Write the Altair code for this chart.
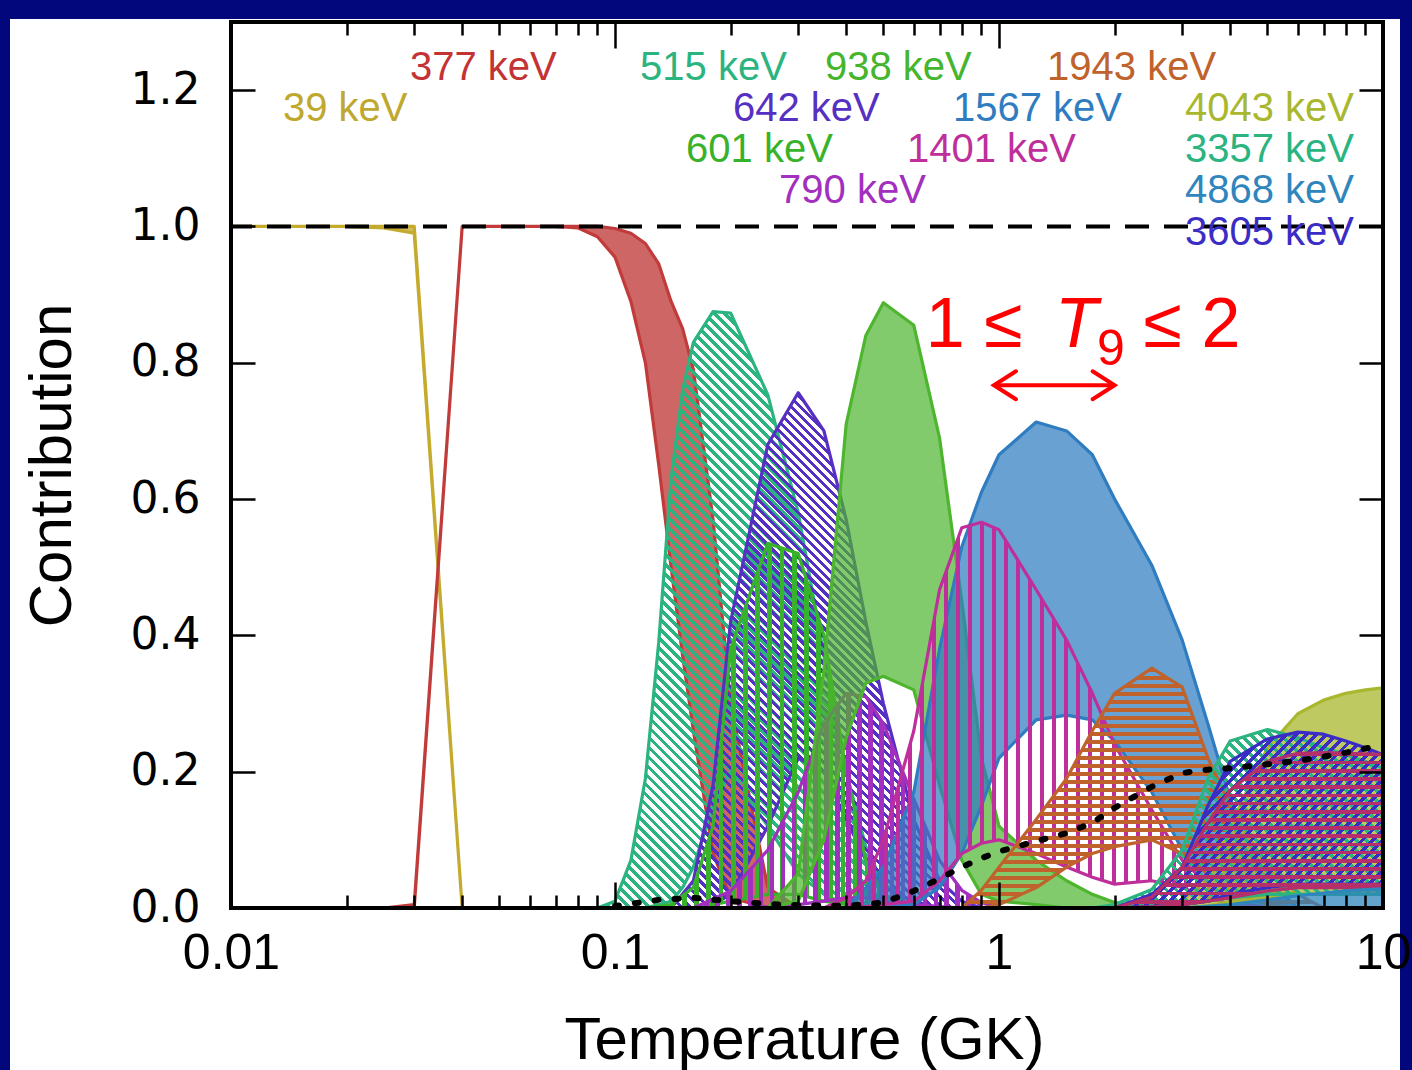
import math
import altair as alt
import pandas as pd

# ---------------- data ----------------
# each resonance: temperatures (GK), upper and lower contribution bounds
T_39 = [0.01, 0.015, 0.02, 0.025, 0.03, 0.04]
U_39 = [1.0, 1.0, 1.0, 1.0, 1.0, 0.0]
L_39 = [1.0, 1.0, 1.0, 0.998, 0.99, 0.0]

T_377 = [0.025, 0.03, 0.04, 0.05, 0.06, 0.07, 0.08, 0.09, 0.1, 0.11, 0.12, 0.13, 0.14, 0.15, 0.16, 0.18, 0.2, 0.25, 0.3]
U_377 = [0.0, 0.005, 1.0, 1.0, 1.0, 1.0, 1.0, 1.0, 0.997, 0.99, 0.975, 0.945, 0.89, 0.85, 0.79, 0.57, 0.3, 0.03, 0.0]
L_377 = [0.0, 0.0, 1.0, 1.0, 1.0, 1.0, 0.998, 0.985, 0.955, 0.89, 0.8, 0.65, 0.5, 0.37, 0.26, 0.08, 0.015, 0.0, 0.0]

T_515 = [0.09, 0.1, 0.11, 0.12, 0.13, 0.14, 0.15, 0.16, 0.18, 0.2, 0.25, 0.3, 0.35, 0.4, 0.45, 0.5, 0.6, 0.7]
U_515 = [0.0, 0.01, 0.07, 0.19, 0.39, 0.63, 0.76, 0.83, 0.875, 0.873, 0.753, 0.58, 0.37, 0.2, 0.09, 0.035, 0.008, 0.0]
L_515 = [0.0, 0.0, 0.0, 0.0, 0.005, 0.01, 0.03, 0.06, 0.15, 0.2, 0.12, 0.05, 0.02, 0.005, 0.0, 0.0, 0.0, 0.0]

T_642 = [0.14, 0.16, 0.18, 0.2, 0.25, 0.3, 0.35, 0.4, 0.45, 0.5, 0.6, 0.7, 0.8, 0.9]
U_642 = [0.0, 0.04, 0.18, 0.42, 0.68, 0.756, 0.7, 0.57, 0.42, 0.3, 0.13, 0.04, 0.01, 0.0]
L_642 = [0.0, 0.0, 0.005, 0.02, 0.12, 0.22, 0.2, 0.13, 0.07, 0.03, 0.01, 0.0, 0.0, 0.0]

T_601 = [0.12, 0.14, 0.16, 0.18, 0.2, 0.25, 0.3, 0.35, 0.4, 0.45, 0.5, 0.6]
U_601 = [0.0, 0.005, 0.03, 0.12, 0.38, 0.535, 0.52, 0.4, 0.2, 0.07, 0.02, 0.0]
L_601 = [0.0, 0.0, 0.0, 0.005, 0.01, 0.02, 0.02, 0.01, 0.005, 0.0, 0.0, 0.0]

T_790 = [0.16, 0.2, 0.25, 0.3, 0.35, 0.4, 0.45, 0.5, 0.6, 0.7, 0.8, 0.9, 1.0]
U_790 = [0.0, 0.025, 0.085, 0.17, 0.27, 0.315, 0.31, 0.27, 0.16, 0.07, 0.026, 0.008, 0.0]
L_790 = [0.0, 0.0, 0.002, 0.005, 0.01, 0.015, 0.015, 0.01, 0.005, 0.002, 0.0, 0.0, 0.0]

T_938 = [0.25, 0.3, 0.35, 0.4, 0.45, 0.5, 0.6, 0.7, 0.8, 0.9, 1.0, 1.25, 1.5, 1.75, 2.0, 2.5]
U_938 = [0.0, 0.05, 0.35, 0.71, 0.84, 0.888, 0.855, 0.69, 0.45, 0.22, 0.12, 0.07, 0.04, 0.02, 0.008, 0.0]
L_938 = [0.0, 0.01, 0.1, 0.25, 0.33, 0.34, 0.32, 0.18, 0.07, 0.02, 0.01, 0.005, 0.0, 0.0, 0.0, 0.0]

T_1567 = [0.4, 0.45, 0.5, 0.6, 0.7, 0.8, 0.9, 1.0, 1.25, 1.5, 1.75, 2.0, 2.5, 3.0, 3.5, 4.0, 5.0, 6.0]
U_1567 = [0.0, 0.03, 0.06, 0.17, 0.38, 0.53, 0.61, 0.665, 0.713, 0.70, 0.665, 0.6, 0.503, 0.393, 0.27, 0.16, 0.04, 0.0]
L_1567 = [0.0, 0.0, 0.002, 0.005, 0.03, 0.08, 0.15, 0.22, 0.276, 0.283, 0.276, 0.245, 0.17, 0.085, 0.035, 0.01, 0.0, 0.0]

T_1401 = [0.35, 0.4, 0.45, 0.5, 0.6, 0.7, 0.8, 0.9, 1.0, 1.25, 1.5, 1.75, 2.0, 2.5, 3.0, 3.5, 4.0, 5.0]
U_1401 = [0.0, 0.015, 0.04, 0.1, 0.26, 0.467, 0.558, 0.566, 0.555, 0.467, 0.393, 0.315, 0.24, 0.144, 0.07, 0.034, 0.01, 0.0]
L_1401 = [0.0, 0.0, 0.002, 0.005, 0.01, 0.04, 0.08, 0.095, 0.1, 0.08, 0.06, 0.045, 0.035, 0.04, 0.03, 0.015, 0.005, 0.0]

T_1943 = [0.8, 0.9, 1.0, 1.25, 1.5, 1.75, 2.0, 2.5, 3.0, 3.5, 4.0, 5.0, 6.0, 7.0]
U_1943 = [0.0, 0.026, 0.06, 0.13, 0.19, 0.26, 0.315, 0.352, 0.324, 0.22, 0.15, 0.06, 0.02, 0.0]
L_1943 = [0.0, 0.0, 0.005, 0.03, 0.06, 0.08, 0.09, 0.1, 0.08, 0.05, 0.025, 0.005, 0.0, 0.0]

T_4043 = [2.5, 3.0, 3.5, 4.0, 5.0, 6.0, 7.0, 8.0, 9.0, 10.0]
U_4043 = [0.0, 0.01, 0.05, 0.12, 0.235, 0.285, 0.305, 0.315, 0.32, 0.323]
L_4043 = [0.0, 0.0, 0.003, 0.008, 0.015, 0.02, 0.02, 0.02, 0.02, 0.02]

T_3357 = [1.75, 2.0, 2.5, 3.0, 3.5, 4.0, 5.0, 6.0, 7.0, 8.0, 9.0, 10.0]
U_3357 = [0.0, 0.005, 0.027, 0.085, 0.19, 0.245, 0.262, 0.25, 0.235, 0.225, 0.215, 0.205]
L_3357 = [0.0, 0.0, 0.002, 0.005, 0.01, 0.015, 0.02, 0.02, 0.02, 0.02, 0.02, 0.02]

T_3605 = [2.0, 2.5, 3.0, 3.5, 4.0, 5.0, 6.0, 7.0, 8.0, 9.0, 10.0]
U_3605 = [0.0, 0.02, 0.06, 0.15, 0.215, 0.248, 0.258, 0.255, 0.245, 0.235, 0.225]
L_3605 = [0.0, 0.002, 0.005, 0.01, 0.02, 0.03, 0.035, 0.035, 0.035, 0.035, 0.035]

T_X = [2.0, 2.5, 3.0, 3.5, 4.0, 5.0, 6.0, 7.0, 8.0, 9.0, 10.0]
U_X = [0.0, 0.016, 0.06, 0.125, 0.173, 0.215, 0.227, 0.228, 0.227, 0.226, 0.225]
L_X = [0.0, 0.002, 0.005, 0.01, 0.015, 0.025, 0.03, 0.03, 0.03, 0.03, 0.03]

T_4868 = [3.0, 4.0, 5.0, 6.0, 7.0, 8.0, 9.0, 10.0]
U_4868 = [0.0, 0.005, 0.012, 0.018, 0.022, 0.025, 0.027, 0.028]
L_4868 = [0.0, 0.0, 0.0, 0.0, 0.0, 0.0, 0.0, 0.0]

T_DOT = [0.1, 0.13, 0.16, 0.2, 0.25, 0.3, 0.4, 0.5, 0.6, 0.7, 0.8, 0.9, 1.0, 1.25, 1.5, 1.75,
         2.0, 2.5, 3.0, 3.5, 4.0, 5.0, 6.0, 7.0, 8.0, 9.0, 10.0]
V_DOT = [0.003, 0.012, 0.015, 0.01, 0.006, 0.004, 0.003, 0.008, 0.025, 0.043, 0.06, 0.073, 0.083, 0.098,
         0.11, 0.125, 0.147, 0.178, 0.198, 0.203, 0.205, 0.211, 0.216, 0.222, 0.228, 0.234, 0.239]

UNITY = [1.0]

LABEL_TEXT = ["377 keV", "39 keV", "515 keV", "938 keV", "1943 keV", "642 keV", "1567 keV", "4043 keV",
              "601 keV", "1401 keV", "3357 keV", "790 keV", "4868 keV", "3605 keV"]
LABEL_T = [0.02924, 0.01366, 0.1162, 0.3522, 1.334, 0.2029, 0.759, 3.051,
           0.1531, 0.576, 3.051, 0.2674, 3.051, 3.051]
LABEL_V = [1.215, 1.155, 1.215, 1.215, 1.215, 1.155, 1.155, 1.155,
           1.095, 1.095, 1.095, 1.034, 1.034, 0.973]

ANN_TEXT = ["1 \u2264", "T", "9", "\u2264 2"]
ANN_T = [0.645, 1.40, 1.80, 2.38]
ANN_V = [0.823, 0.823, 0.796, 0.823]
ARROW_T = [0.97, 2.0]
ARROW_V = 0.767

X_MAJOR = [0.01, 0.1, 1, 10]
X_INNER_MAJOR = [0.1, 1]
X_MINOR = [0.02, 0.03, 0.04, 0.05, 0.06, 0.07, 0.08, 0.09,
           0.2, 0.3, 0.4, 0.5, 0.6, 0.7, 0.8, 0.9,
           2, 3, 4, 5, 6, 7, 8, 9]
Y_TICKS = [0.0, 0.2, 0.4, 0.6, 0.8, 1.0, 1.2]
Y_INNER = [0.2, 0.4, 0.6, 0.8, 1.0, 1.2]

# ---------------- colours ----------------
C_39 = "#c4ab2e"
C_377 = "#c23b3b"
C_515 = "#2bb47f"
C_642 = "#5630c2"
C_601 = "#38b22a"
C_790 = "#a22fbd"
C_938 = "#4db52e"
C_1567 = "#2f7dc0"
C_1401 = "#bf2f9b"
C_1943 = "#c0622b"
C_4043 = "#a9b72e"
C_3357 = "#2bb47f"
C_3605 = "#3a2cc4"
C_X = "#b52f6a"
C_4868 = "#2f86bd"
LABEL_COLOR = ["#c43333", "#bfa82e", C_515, "#44b52c", C_1943, C_642, C_1567, C_4043,
               C_601, C_1401, C_3357, C_790, C_4868, C_3605]

# ---------------- geometry ----------------
W, H = 1152, 886
PX_PER_DECADE = W / 3.0
PX_PER_UNIT = H / 1.3

xscale = alt.Scale(type="log", domain=[0.01, 10], nice=False)
yscale = alt.Scale(domain=[0, 1.3], nice=False, zero=False)

CLEAR = "rgba(255,255,255,0)"


def hatch_gradient(color, kind, w, h, period, frac):
    r = h / w
    lam = (1 + r) / (1 + r * r)
    if kind == "vert":
        x1, y1, x2, y2 = 0, 0, 1, 0
        n = w / period
    elif kind == "horiz":
        x1, y1, x2, y2 = 0, 0, 0, 1
        n = h / period
    elif kind == "back":
        x1, y1, x2, y2 = 0, 1, lam, 1 - lam * r
        n = (w + h) / period
    else:
        x1, y1, x2, y2 = 0, 0, lam, lam * r
        n = (w + h) / period
    n = max(1, int(round(n)))
    stops = []
    for i in range(n):
        a = i / n
        b = (i + frac) / n
        stops += [alt.GradientStop(color=CLEAR, offset=a),
                  alt.GradientStop(color=color, offset=a),
                  alt.GradientStop(color=color, offset=b),
                  alt.GradientStop(color=CLEAR, offset=b)]
    return alt.LinearGradient(gradient="linear", stops=stops, x1=x1, y1=y1, x2=x2, y2=y2)


def band(T, U, L, color, style, period=10.0, frac=0.5, fill_opacity=0.75, sw=3.2):
    df = pd.DataFrame({"T": T, "U": U, "L": L})
    enc = dict(x=alt.X("T:Q", scale=xscale, axis=None),
               y=alt.Y("U:Q", scale=yscale, axis=None),
               y2=alt.Y2("L:Q"))
    if style == "solid":
        m = alt.Chart(df).mark_area(fill=color, fillOpacity=fill_opacity, stroke=color,
                                    strokeWidth=sw, strokeJoin="round", opacity=1)
    else:
        w = PX_PER_DECADE * math.log10(max(T) / min(T))
        h = PX_PER_UNIT * (max(U) - min(L))
        g = hatch_gradient(color, style, w, h, period, frac)
        m = alt.Chart(df).mark_area(fill=g, stroke=color, strokeWidth=sw,
                                    strokeJoin="round", opacity=1)
    return m.encode(**enc)


anchor = pd.DataFrame({"T": [1.0], "v": [0.5]})

panel = alt.Chart(anchor).mark_rect(color="white").encode(
    x=alt.value(-221), x2=alt.value(1169), y=alt.value(-3), y2=alt.value(1048))

bands = [
    band(T_39, U_39, L_39, C_39, "solid", fill_opacity=0.8),
    band(T_377, U_377, L_377, C_377, "solid", fill_opacity=0.78),
    band(T_515, U_515, L_515, C_515, "back", period=10.0, frac=0.48),
    band(T_642, U_642, L_642, C_642, "back", period=9.0, frac=0.48),
    band(T_601, U_601, L_601, C_601, "vert", period=12.0, frac=0.4),
    band(T_790, U_790, L_790, C_790, "vert", period=11.0, frac=0.42),
    band(T_938, U_938, L_938, C_938, "solid", fill_opacity=0.7),
    band(T_1567, U_1567, L_1567, C_1567, "solid", fill_opacity=0.72),
    band(T_1401, U_1401, L_1401, C_1401, "vert", period=12.0, frac=0.36),
    band(T_1943, U_1943, L_1943, C_1943, "horiz", period=8.0, frac=0.45),
    band(T_4043, U_4043, L_4043, C_4043, "solid", fill_opacity=0.75),
    band(T_3357, U_3357, L_3357, C_3357, "back", period=10.0, frac=0.48),
    band(T_3605, U_3605, L_3605, C_3605, "fwd", period=10.0, frac=0.48),
    band(T_X, U_X, L_X, C_X, "horiz", period=8.0, frac=0.45),
    band(T_4868, U_4868, L_4868, C_4868, "solid", fill_opacity=0.75),
]

dashed = alt.Chart(pd.DataFrame({"v": UNITY})).mark_rule(
    color="black", strokeWidth=4, strokeDash=[24, 15]).encode(
    y=alt.Y("v:Q", scale=yscale, axis=None))

dotted = alt.Chart(pd.DataFrame({"T": T_DOT, "v": V_DOT})).mark_line(
    color="black", strokeWidth=6, strokeDash=[4, 16], strokeCap="round").encode(
    x=alt.X("T:Q", scale=xscale, axis=None), y=alt.Y("v:Q", scale=yscale, axis=None))

labels = alt.Chart(pd.DataFrame({"T": LABEL_T, "v": LABEL_V, "text": LABEL_TEXT,
                                 "color": LABEL_COLOR})).mark_text(
    align="left", baseline="alphabetic", font="Liberation Sans", fontSize=40).encode(
    x=alt.X("T:Q", scale=xscale, axis=None), y=alt.Y("v:Q", scale=yscale, axis=None),
    text="text:N", color=alt.Color("color:N", scale=None))

ann_df = pd.DataFrame({"T": ANN_T, "v": ANN_V, "text": ANN_TEXT, "k": [0, 1, 2, 3]})


def ann(k, size, style="normal"):
    return alt.Chart(ann_df).transform_filter(f"datum.k == {k}").mark_text(
        align="left", baseline="alphabetic", font="Liberation Sans", fontSize=size,
        fontStyle=style, color="#ff0000").encode(
        x=alt.X("T:Q", scale=xscale, axis=None), y=alt.Y("v:Q", scale=yscale, axis=None),
        text="text:N")


annots = [ann(0, 70), ann(1, 70, "italic"), ann(2, 50), ann(3, 70)]

arrow_line = alt.Chart(pd.DataFrame({"T1": [ARROW_T[0]], "T2": [ARROW_T[1]], "v": [ARROW_V]})).mark_rule(
    color="#ff0000", strokeWidth=4).encode(
    x=alt.X("T1:Q", scale=xscale, axis=None), x2="T2:Q", y=alt.Y("v:Q", scale=yscale, axis=None))
head_df = pd.DataFrame({"T": ARROW_T, "v": [ARROW_V, ARROW_V], "k": [0, 1]})
head_l = alt.Chart(head_df).transform_filter("datum.k == 0").mark_point(
    shape="M1.1,-0.7L0,0L1.1,0.7", size=1600, filled=False, stroke="#ff0000",
    strokeWidth=4, opacity=1, strokeCap="round", strokeJoin="miter").encode(
    x=alt.X("T:Q", scale=xscale, axis=None), y=alt.Y("v:Q", scale=yscale, axis=None))
head_r = alt.Chart(head_df).transform_filter("datum.k == 1").mark_point(
    shape="M-1.1,-0.7L0,0L-1.1,0.7", size=1600, filled=False, stroke="#ff0000",
    strokeWidth=4, opacity=1, strokeCap="round", strokeJoin="miter").encode(
    x=alt.X("T:Q", scale=xscale, axis=None), y=alt.Y("v:Q", scale=yscale, axis=None))

frame = alt.Chart(anchor).mark_rect(fill="transparent", stroke="black", strokeWidth=4).encode(
    x=alt.value(0), x2=alt.value(W), y=alt.value(0), y2=alt.value(H))

# ---------------- axes ----------------
x_main = alt.Axis(orient="bottom", values=X_MAJOR, format="~g", ticks=False, domain=False, grid=False,
                  labelFont="Liberation Sans", labelFontSize=50, labelColor="black", labelPadding=20,
                  labelFlush=False, labelOverlap=False,
                  title="Temperature (GK)", titleFont="Liberation Sans", titleFontSize=60,
                  titleFontWeight="normal", titleColor="black", titleX=573, titleY=150,
                  titleAlign="center", titleBaseline="alphabetic", zindex=1)
y_main = alt.Axis(orient="left", values=Y_TICKS, format=".1f", ticks=False, domain=False, grid=False,
                  labelFont="DejaVu Sans", labelFontSize=44, labelColor="black", labelPadding=31,
                  labelOverlap=False,
                  title="Contribution", titleFont="Liberation Sans", titleFontSize=60,
                  titleFontWeight="normal", titleColor="black", titleX=-179, titleY=443,
                  titleAlign="center", titleBaseline="middle", titleAngle=270, zindex=1)


def tick_axis(orient, offset, values, size):
    return alt.Axis(orient=orient, offset=offset, values=values, tickSize=size, tickWidth=2.5,
                    tickColor="black", labels=False, domain=False, grid=False, title=None, zindex=1)


def axis_layer(xa, ya):
    return alt.Chart(anchor).mark_point(opacity=0).encode(
        x=alt.X("T:Q", scale=xscale, axis=xa), y=alt.Y("v:Q", scale=yscale, axis=ya))


axes = [
    axis_layer(x_main, y_main),
    axis_layer(tick_axis("top", -H, X_INNER_MAJOR, 26), tick_axis("right", -W, Y_INNER, 24)),
    axis_layer(tick_axis("top", -H, X_MINOR, 13), tick_axis("left", -W, Y_INNER, 24)),
    axis_layer(tick_axis("bottom", -H, X_INNER_MAJOR, 26), None),
    axis_layer(tick_axis("bottom", -H, X_MINOR, 13), None),
]

layers = [panel] + bands + [dashed, dotted, labels] + annots + [arrow_line, head_l, head_r, frame] + axes

chart = alt.layer(*layers).resolve_axis(x="independent", y="independent").properties(
    width=W, height=H,
    autosize=alt.AutoSizeParams(type="none"),
    padding={"left": 231, "top": 22, "right": 29, "bottom": 162},
    background="#03077c",
).configure_view(strokeWidth=0)

chart.save("out.html", embed_options={"renderer": "svg", "actions": False})
